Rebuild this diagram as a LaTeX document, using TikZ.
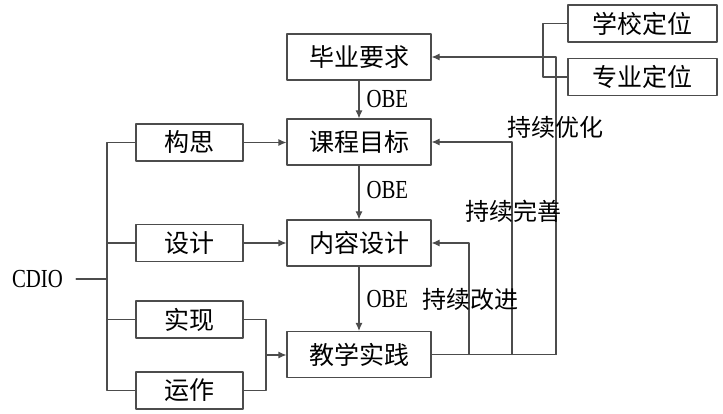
\documentclass[tikz,border=0pt]{standalone}
\usepackage{fontspec}
\setmainfont{Noto Sans CJK SC}
\newfontfamily\latinfont[FakeStretch=0.8]{Liberation Serif}
\usetikzlibrary{arrows.meta, positioning}
\tikzset{every path/.style={line cap=round, line join=round}, >={Latex[length=8pt, width=7pt]}}

\begin{document}
\begin{tikzpicture}[x=1pt, y=-1pt,
    midbox/.style={draw=black!70, line width=1.1pt, minimum width=144pt, minimum height=46pt, inner sep=0pt, font=\fontsize{25}{25}\selectfont},
    sidebox/.style={midbox, minimum width=107pt, minimum height=37pt},
    rightbox/.style={midbox, minimum width=149pt, minimum height=37pt},
    link/.style={draw=black!70, line width=1.1pt},
    lbl/.style={inner sep=0pt, font=\fontsize{24}{24}\selectfont},
    obe/.style={inner sep=0pt, font=\latinfont\fontsize{26}{26}\selectfont}]
    \useasboundingbox (0,0) rectangle (723,414);

    % middle column
    \node [midbox] (grad) at (359,57) {毕业要求};
    \node [midbox] (goal) at (359,142) {课程目标};
    \node [midbox] (content) at (359,243) {内容设计};
    \node [midbox] (teach) at (359,354.5) {教学实践};

    % CDIO column
    \node [sidebox] (conceive) at (189.5,142.5) {构思};
    \node [sidebox] (design) at (189.5,243) {设计};
    \node [sidebox] (implement) at (189.5,319.5) {实现};
    \node [sidebox] (operate) at (189.5,390.5) {运作};
    \node [obe, inner xsep=13pt] (cdio) at (37.5,279) {CDIO};

    % positioning
    \node [rightbox] (school) at (642.5,23.5) {学校定位};
    \node [rightbox] (major) at (642.5,77) {专业定位};

    \coordinate (hub) at (107,279);
    \coordinate (merge) at (266,355);
    \coordinate (rb) at (543,50);
    \coordinate (fbA) at (469,354.5);
    \coordinate (fbB) at (512,354.5);
    \coordinate (fbC) at (556,354.5);

    % OBE chain
    \draw [link, ->] (grad) -- (goal) node [obe, pos=0.5, right=7pt] (obeA) {OBE};
    \draw [link, ->] (goal) -- (content) node [obe, pos=0.45, right=7pt] (obeB) {OBE};
    \draw [link, ->] (content) -- (teach) node [obe, pos=0.5, right=7pt] (obeC) {OBE};

    % CDIO bracket
    \draw [link] (cdio.east) -- (hub);
    \draw [link] (conceive.west) -| (hub) |- (operate.west);
    \draw [link] (design.west) -- (design.west -| hub);
    \draw [link] (implement.west) -- (implement.west -| hub);
    \draw [link, ->] (conceive.east) -- (conceive.east -| goal.west);
    \draw [link, ->] (design.east) -- (design.east -| content.west);
    \draw [link] (implement.east) -| (merge) |- (operate.east);
    \draw [link, ->] (merge) -- (merge -| teach.west);

    % positioning bracket
    \draw [link] (school.west) -| (rb) |- (major.west);

    % feedback loops
    \draw [link] (teach.east) -- (fbC);
    \draw [link, ->] (fbA) |- (content.east);
    \draw [link, ->] (fbB) |- (goal.east);
    \draw [link, ->] (fbC) |- (grad.east);

    \node [lbl] (optimize) at (555.5,127) {持续优化};
    \node [lbl] (perfect) at (513,211) {持续完善};
    \node [lbl] (improve) at (470.5,299) {持续改进};
\end{tikzpicture}
\end{document}
